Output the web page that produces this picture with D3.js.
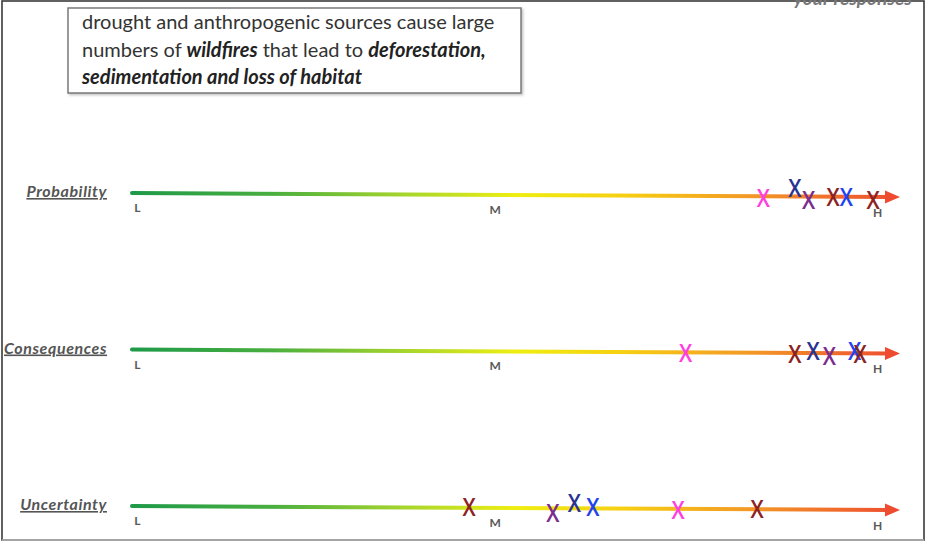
<!DOCTYPE html>
<html><head><meta charset="utf-8">
<script src="https://cdn.jsdelivr.net/npm/d3@7"></script>
<style>body{margin:0;background:#fff}svg{display:block}</style>
</head><body>
<script>
// ---- data ----
const rows = ["Probability", "Consequences", "Uncertainty"];
const tickLabels = ["L", "M", "H"];
const tickValues = [0.007, 0.473, 0.971];
const colorNames = ["magenta", "navy", "purple", "darkred", "blue"];
const probabilityValues = [0.822, 0.863, 0.881, 0.913, 0.930, 0.965];
const probabilityColors = ["magenta", "navy", "purple", "darkred", "blue", "darkred"];
const probabilityLift = [2, -8, 3, 0, 0, 3];
const consequencesValues = [0.721, 0.863, 0.887, 0.908, 0.941, 0.948];
const consequencesColors = ["magenta", "darkred", "navy", "purple", "blue", "darkred"];
const consequencesLift = [1, 1, -2, 3, -2, 1];
const uncertaintyValues = [0.439, 0.548, 0.576, 0.600, 0.711, 0.814];
const uncertaintyColors = ["darkred", "purple", "navy", "blue", "magenta", "darkred"];
const uncertaintyLift = [-1, 5, -5, -1, 1, 0];
const boxLines = [
  [["drought and anthropogenic sources cause large", false]],
  [["numbers of ", false], ["wildfires", true], [" that lead to ", false], ["deforestation,", true]],
  [["sedimentation and loss of habitat", true]]
];

// ---- chart ----
const W = 930, H = 544;
const svg = d3.select("body").append("svg").attr("width", W).attr("height", H);
const palette = d3.scaleOrdinal().domain(colorNames)
  .range(["#ff3fe0", "#2b3390", "#7b2d8e", "#8c2222", "#2242f0"]);
const x = d3.scaleLinear().domain([0, 1]).range([132, 900]);
const rowY = d3.scalePoint().domain(rows).range([193, 506]);
const slope = 4; // drop across the line

// frame
svg.append("rect").attr("x", 2).attr("y", 1).attr("width", 922).attr("height", 539)
  .attr("fill", "none").attr("stroke", "#3a3a3a").attr("stroke-width", 1.6);
svg.append("line").attr("x1", 2).attr("x2", 924).attr("y1", 540).attr("y2", 540)
  .attr("stroke", "#bbb").attr("stroke-width", 1.6);

// cut-off top-right text
svg.append("text").attr("x", 912).attr("y", 5).attr("text-anchor", "end")
  .attr("font-family", "Lato").attr("font-weight", "bold").attr("font-style", "italic")
  .attr("font-size", 19).attr("fill", "#777").text("your responses");

// text box
const defs = svg.append("defs");
const f = defs.append("filter").attr("id", "sh").attr("x", "-5%").attr("y", "-5%").attr("width", "110%").attr("height", "120%");
f.append("feDropShadow").attr("dx", 1.5).attr("dy", 1.5).attr("stdDeviation", 1.2).attr("flood-color", "#999").attr("flood-opacity", 0.6);
svg.append("rect").attr("x", 68).attr("y", 8).attr("width", 453).attr("height", 85)
  .attr("fill", "#fff").attr("stroke", "#7a7a7a").attr("stroke-width", 1.5).attr("filter", "url(#sh)");
const bt = svg.append("g").attr("font-family", "Lato").attr("font-size", 20).attr("fill", "#333");
boxLines.forEach((parts, i) => {
  const t = bt.append("text").attr("x", 82).attr("y", 29 + i * 27.5);
  parts.forEach(([s, b]) => {
    const sp = t.append("tspan").text(s);
    if (b) sp.attr("font-weight", "bold").attr("font-style", "italic").attr("fill", "#222");
  });
});

// gradient
const grad = defs.append("linearGradient").attr("id", "g").attr("gradientUnits", "userSpaceOnUse")
  .attr("x1", x(0)).attr("x2", x(1)).attr("y1", 0).attr("y2", 0);
[[0, "#1e9a49"], [0.18, "#48ae3f"], [0.36, "#a9d62c"], [0.5, "#eeee12"], [0.64, "#f6cf12"],
 [0.8, "#f39a26"], [1, "#ee4b30"]].forEach(([o, c]) =>
  grad.append("stop").attr("offset", o).attr("stop-color", c));

const series = {
  Probability: [probabilityValues, probabilityColors, probabilityLift],
  Consequences: [consequencesValues, consequencesColors, consequencesLift],
  Uncertainty: [uncertaintyValues, uncertaintyColors, uncertaintyLift]
};

rows.forEach(r => {
  const y0 = rowY(r);
  const yAt = v => y0 + slope * v;
  const g = svg.append("g");
  // label
  g.append("text").attr("x", 107).attr("y", y0 + 4).attr("text-anchor", "end")
    .attr("font-family", "Lato").attr("font-weight", "bold").attr("font-style", "italic")
    .attr("font-size", 16).attr("letter-spacing", 0.6)
    .attr("fill", "#555").attr("text-decoration", "underline").text(r);
  // line
  g.append("line").attr("x1", x(0)).attr("y1", yAt(0)).attr("x2", x(0.985)).attr("y2", yAt(0.985))
    .attr("stroke", "url(#g)").attr("stroke-width", 4).attr("stroke-linecap", "round");
  const tip = x(1), ty = yAt(1);
  g.append("path").attr("d", `M${tip},${ty} L${tip - 15},${ty - 6.5} L${tip - 15},${ty + 6.5} Z`)
    .attr("fill", "#ee4b30");
  // tick labels
  g.selectAll(".tl").data(tickLabels).enter().append("text")
    .attr("x", (d, i) => x(tickValues[i]))
    .attr("y", (d, i) => yAt(tickValues[i]) + 19 + (i === 2 ? 1 : 0))
    .attr("font-family", "Lato").attr("font-weight", "bold").attr("font-size", 12)
    .attr("fill", "#5a5a5a").attr("text-anchor", "middle").text(d => d);
  // marks
  const [vals, cols, lift] = series[r];
  g.selectAll(".mk").data(vals).enter().append("text")
    .attr("transform", (d, i) => `translate(${x(d)},${yAt(d) + lift[i] + 9}) scale(0.85,1)`)
    .attr("text-anchor", "middle").attr("font-family", "Open Sans").attr("font-weight", 600)
    .attr("font-size", 25)
    .attr("fill", (d, i) => palette(cols[i])).text("X");
});
</script>
</body></html>
